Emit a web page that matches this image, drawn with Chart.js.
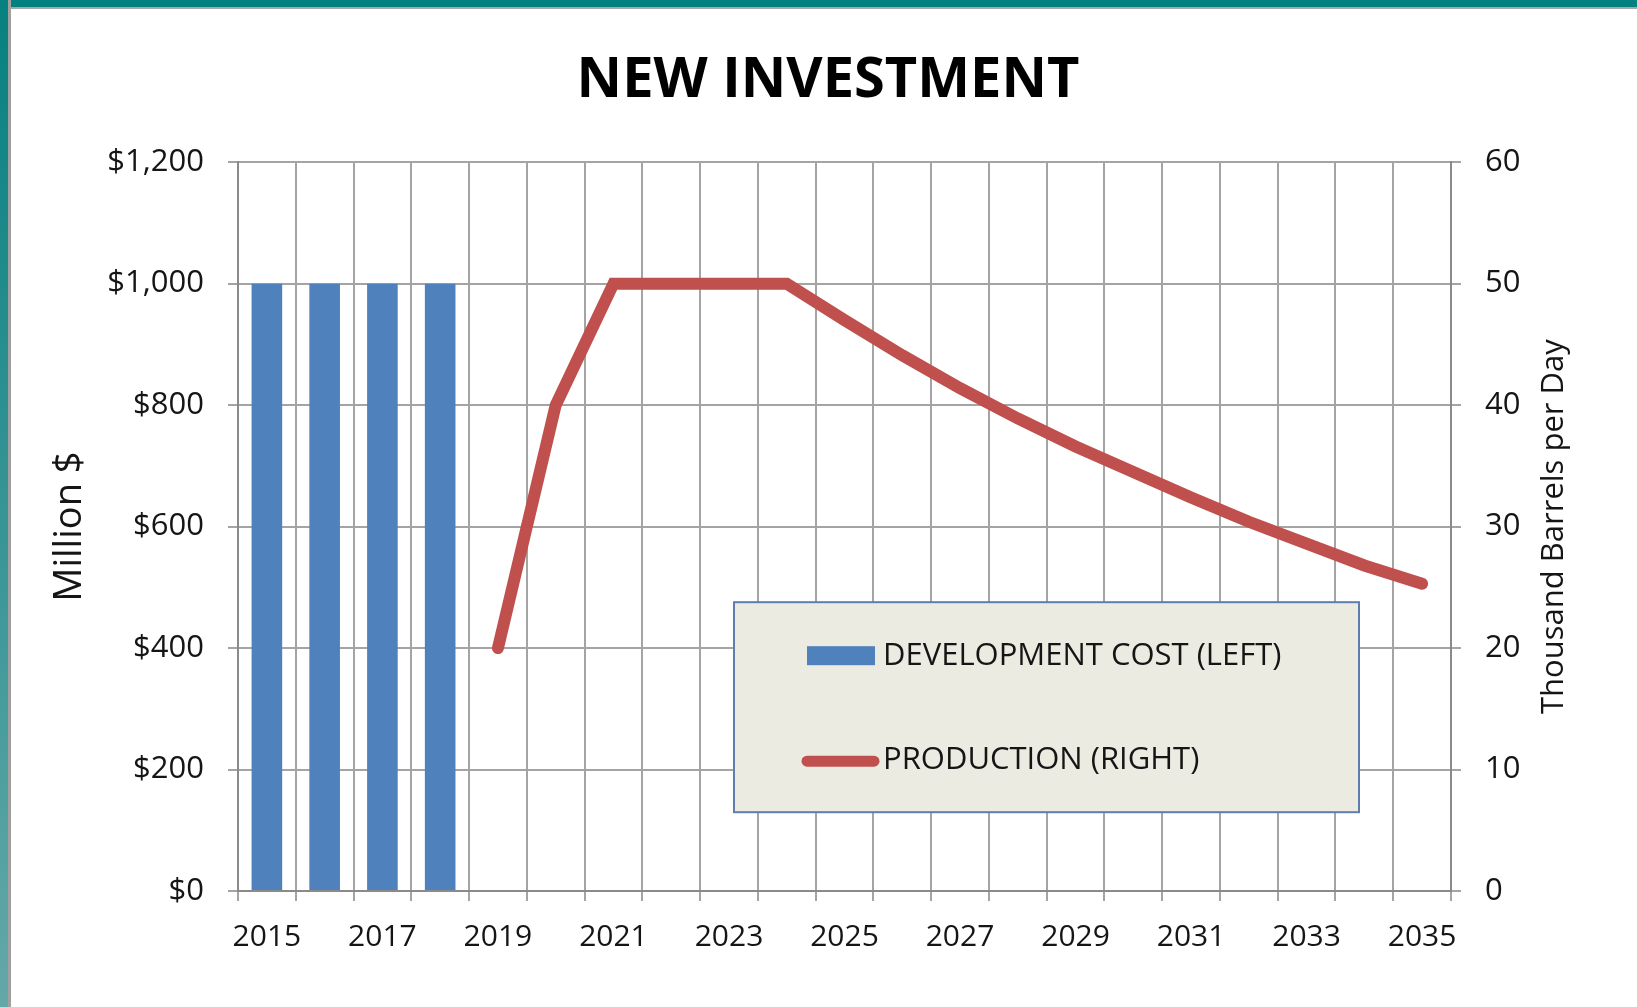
<!DOCTYPE html>
<html>
<head>
<meta charset="utf-8">
<title>New Investment</title>
<script src="https://cdn.jsdelivr.net/npm/chart.js@4.4.1/dist/chart.umd.min.js"></script>
<style>
  html, body { margin: 0; padding: 0; background: #fff; overflow: hidden; }
  #wrap { position: relative; width: 1637px; height: 1007px; }
  #topbar { position: absolute; left: 0; top: 0; width: 1637px; height: 7px; background: #038080; border-bottom: 2px solid #a8a8a8; z-index: 2; }
  #leftbar { position: absolute; left: 0; top: 0; width: 8px; height: 1007px; background: linear-gradient(#078080, #64a8a8); border-right: 3px solid #a0a0a0; z-index: 3; }
  canvas { position: absolute; left: 0; top: 0; }
</style>
</head>
<body>
<div id="wrap">
  <canvas id="chart" width="1637" height="1007"></canvas>
  <div id="topbar"></div>
  <div id="leftbar"></div>
</div>
<script>
var chartTitle = 'NEW INVESTMENT';
var years = ['2015', '2016', '2017', '2018', '2019', '2020', '2021', '2022', '2023', '2024',
             '2025', '2026', '2027', '2028', '2029', '2030', '2031', '2032', '2033', '2034', '2035'];
// million $ (left axis)
var devCost = [1000, 1000, 1000, 1000, null, null, null, null, null, null,
               null, null, null, null, null, null, null, null, null, null, null];
// thousand barrels per day (right axis)
var production = [null, null, null, null, 20, 40, 50, 50, 50, 50,
                  47.0, 44.1, 41.4, 38.9, 36.6, 34.5, 32.4, 30.4, 28.6, 26.8, 25.3];
var leftMax = 1200, leftStep = 200;
var rightMax = 60, rightStep = 10;
var leftTitle = 'Million $';
var rightTitle = 'Thousand Barrels per Day';
var devLabel = 'DEVELOPMENT COST (LEFT)';
var prodLabel = 'PRODUCTION (RIGHT)';

Chart.defaults.font.family = '"Open Sans", "DejaVu Sans", sans-serif';
Chart.defaults.color = '#151515';

var gridColor = '#a4a4a4';
var axisColor = '#8a8a8a';

// legend drawn as a box inside the plot, like the spreadsheet one
var legendBox = {
  id: 'legendBox',
  afterDatasetsDraw: function(chart) {
    var ctx = chart.ctx;
    var a = chart.chartArea;
    var x = a.left + 496, y = a.top + 440, w = 625, h = 210;
    var ds = chart.data.datasets;
    ctx.save();
    ctx.fillStyle = '#ecebe1';
    ctx.fillRect(x, y, w, h);
    ctx.strokeStyle = '#5d7eae';
    ctx.lineWidth = 2;
    ctx.strokeRect(x, y, w, h);

    ctx.fillStyle = ds[0].backgroundColor;
    ctx.fillRect(x + 73, y + 44, 68, 19);

    ctx.strokeStyle = ds[1].borderColor;
    ctx.lineWidth = 11;
    ctx.lineCap = 'round';
    ctx.beginPath();
    ctx.moveTo(x + 73, y + 159);
    ctx.lineTo(x + 140, y + 159);
    ctx.stroke();

    ctx.fillStyle = '#151515';
    ctx.font = '31px "Open Sans"';
    ctx.textBaseline = 'middle';
    ctx.textAlign = 'left';
    ctx.fillText(ds[0].label, x + 149, y + 54);
    ctx.fillText(ds[1].label, x + 149, y + 158);
    ctx.restore();
  }
};

// right axis title reads bottom-to-top in the original
var rightAxisTitle = {
  id: 'rightAxisTitle',
  afterDraw: function(chart) {
    var ctx = chart.ctx;
    var a = chart.chartArea;
    var s = chart.scales.y1;
    ctx.save();
    ctx.translate(s.right - 83, (a.top + a.bottom) / 2);
    ctx.rotate(-Math.PI / 2);
    ctx.fillStyle = '#151515';
    ctx.font = '31px "Open Sans"';
    ctx.textAlign = 'center';
    ctx.textBaseline = 'middle';
    ctx.fillText(rightTitle, 0, 0);
    ctx.restore();
  }
};

var ctx = document.getElementById('chart').getContext('2d');
new Chart(ctx, {
  data: {
    labels: years,
    datasets: [{
      type: 'bar',
      label: devLabel,
      data: devCost,
      backgroundColor: '#4f81bd',
      borderWidth: 0,
      yAxisID: 'y',
      barPercentage: 0.53,
      categoryPercentage: 1,
      order: 2
    }, {
      type: 'line',
      label: prodLabel,
      data: production,
      borderColor: '#c0504d',
      backgroundColor: '#c0504d',
      borderWidth: 12,
      borderCapStyle: 'round',
      borderJoinStyle: 'miter',
      pointRadius: 0,
      tension: 0,
      fill: false,
      yAxisID: 'y1',
      order: 1
    }]
  },
  options: {
    responsive: false,
    animation: false,
    layout: { padding: { left: 19, right: 0, top: 0, bottom: 0 } },
    plugins: {
      legend: { display: false },
      tooltip: { enabled: false },
      title: {
        display: true,
        text: chartTitle,
        color: '#000',
        font: { size: 56, weight: 'bold', lineHeight: 1.2 },
        padding: { top: 47, bottom: 48 }
      }
    },
    scales: {
      x: {
        offset: true,
        grid: { offset: true, color: gridColor, lineWidth: 2, tickLength: 10, tickColor: gridColor },
        border: { color: axisColor, width: 2 },
        ticks: {
          autoSkip: false,
          maxRotation: 0,
          padding: 18,
          font: { size: 30 },
          callback: function(val, i) { return i % 2 === 0 ? years[i] : ''; }
        },
        afterFit: function(scale) { scale.height = 116; }
      },
      y: {
        position: 'left',
        min: 0,
        max: leftMax,
        grid: { color: gridColor, lineWidth: 2, tickLength: 10, tickColor: gridColor },
        border: { color: axisColor, width: 2 },
        ticks: {
          stepSize: leftStep,
          padding: 24,
          font: { size: 31 },
          callback: function(v) { return '$' + v.toLocaleString('en-US'); }
        },
        title: {
          display: true,
          text: leftTitle,
          font: { size: 38 },
          padding: { top: 28, bottom: 0 }
        },
        afterFit: function(scale) { scale.width = 219; }
      },
      y1: {
        position: 'right',
        min: 0,
        max: rightMax,
        grid: { drawOnChartArea: false, color: gridColor, lineWidth: 2, tickLength: 10, tickColor: gridColor },
        border: { color: axisColor, width: 2 },
        ticks: { stepSize: rightStep, padding: 24, font: { size: 31 } },
        afterFit: function(scale) { scale.width = 186; }
      }
    }
  },
  plugins: [legendBox, rightAxisTitle]
});
</script>
</body>
</html>
